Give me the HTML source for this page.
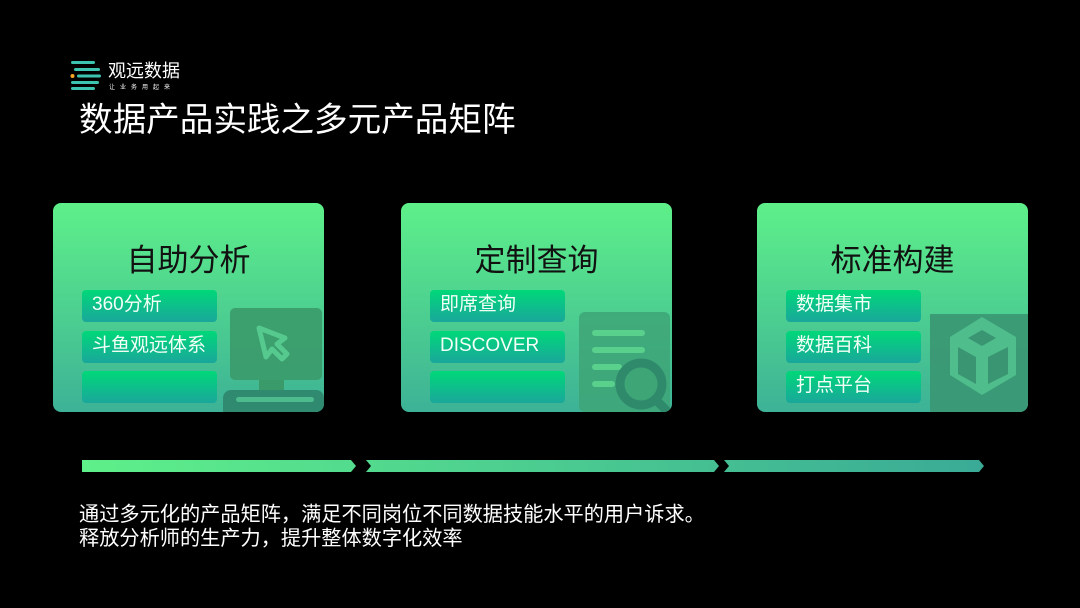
<!DOCTYPE html>
<html><head><meta charset="utf-8"><style>
*{margin:0;padding:0;box-sizing:border-box}
body{width:1080px;height:608px;background:#000;position:relative;overflow:hidden;font-family:"Liberation Sans","Noto Sans CJK SC",sans-serif;color:#fff}
.a{position:absolute}
.card{position:absolute;top:203px;width:271px;height:209px;border-radius:8px;background:linear-gradient(#5ef08a,#3db296);overflow:hidden}
.ct{position:absolute;top:32px;left:0;width:100%;text-align:center;font-size:31px;color:#111}
.sb{position:absolute;left:29px;width:135px;height:32px;border-radius:4px;background:linear-gradient(#00d879,#1aa79b);font-size:19px;line-height:30px;padding-left:10px;color:#f2fff6}
.bot{font-size:20.2px;line-height:24px;left:79px;white-space:nowrap}
</style></head><body>
<svg class="a" style="left:70px;top:60px" width="32" height="32" viewBox="0 0 32 32">
<rect x="1" y="1" width="24" height="3" rx="1.5" fill="#3cc4b0"/>
<rect x="4" y="8" width="26" height="3" rx="1.5" fill="#3cc4b0"/>
<circle cx="2.5" cy="16" r="2" fill="#f5a623"/>
<rect x="7" y="14.5" width="24" height="3" rx="1.5" fill="#3cc4b0"/>
<rect x="1" y="21" width="28" height="3" rx="1.5" fill="#3cc4b0"/>
<rect x="1" y="27" width="24" height="3" rx="1.5" fill="#3cc4b0"/>
</svg>
<div class="a" style="left:108px;top:60px;font-size:18px;line-height:22px">观远数据</div>
<div class="a" style="left:109px;top:82px;font-size:6px;letter-spacing:5px">让业务用起来</div>
<div class="a" style="left:79px;top:100px;font-size:33.6px;line-height:42px;white-space:nowrap">数据产品实践之多元产品矩阵</div>

<div class="card" style="left:53px">
<div class="ct">自助分析</div>
<div class="sb" style="top:87px">360分析</div>
<div class="sb" style="top:128px">斗鱼观远体系</div>
<div class="sb" style="top:168px"></div>
<svg class="a" style="left:170px;top:105px" width="101" height="104">
<rect x="7" y="0" width="92" height="72" rx="5" fill="#3b9a6a" opacity=".9"/>
<rect x="36" y="72" width="25" height="10" fill="#3b9a6a"/>
<rect x="0" y="82" width="101" height="30" rx="8" fill="#2f8a70"/>
<rect x="13" y="89" width="78" height="5" rx="2.5" fill="#4dbb8e"/>
<path d="M36 20 L62 30 L54 36 L64 46 L59 51 L49 41 L43 49 Z" fill="none" stroke="#56c98f" stroke-width="5" stroke-linejoin="round"/>
</svg>
</div>

<div class="card" style="left:401px">
<div class="ct">定制查询</div>
<div class="sb" style="top:87px">即席查询</div>
<div class="sb" style="top:128px">DISCOVER</div>
<div class="sb" style="top:168px"></div>
<svg class="a" style="left:178px;top:109px" width="93" height="100">
<rect x="0" y="0" width="91" height="100" rx="6" fill="#3ea577" opacity=".85"/>
<g stroke="#5ad08d" stroke-width="6" stroke-linecap="round"><line x1="16" y1="21" x2="63" y2="21"/><line x1="16" y1="38" x2="63" y2="38"/><line x1="16" y1="55" x2="40" y2="55"/><line x1="16" y1="72" x2="33" y2="72"/></g>
<circle cx="62" cy="72" r="21" fill="#3ea577" stroke="#2f8a6c" stroke-width="9"/>
<line x1="77" y1="88" x2="88" y2="99" stroke="#2f8a6c" stroke-width="9" stroke-linecap="round"/>
</svg>
</div>

<div class="card" style="left:757px">
<div class="ct">标准构建</div>
<div class="sb" style="top:87px">数据集市</div>
<div class="sb" style="top:128px">数据百科</div>
<div class="sb" style="top:168px">打点平台</div>
<svg class="a" style="left:173px;top:111px" width="98" height="98">
<rect x="0" y="0" width="98" height="98" fill="#3a9672" opacity=".9"/>
<path d="M52 3 L86 23 L86 61 L52 81 L20 61 L20 23 Z" fill="#4fbd8c"/>
<path d="M28 33 L46 43 L46 70 L28 60 Z M58 43 L78 33 L78 60 L58 70 Z M38 24 L52 16 L66 24 L52 32 Z" fill="#3a9672"/>
</svg>
</div>

<svg class="a" style="left:0;top:458px" width="1080" height="16">
<defs><linearGradient id="g" x1="0" x2="1"><stop offset="0" stop-color="#5ef08a"/><stop offset="1" stop-color="#3aaa96"/></linearGradient></defs>
<path d="M82 2 L351 2 L356 8 L351 14 L82 14 Z M366 2 L714 2 L719 8 L714 14 L366 14 L371 8 Z M724 2 L979 2 L984 8 L979 14 L724 14 L729 8 Z" fill="url(#g)"/>
</svg>

<div class="a bot" style="top:503px">通过多元化的产品矩阵，满足不同岗位不同数据技能水平的用户诉求。</div>
<div class="a bot" style="top:527px">释放分析师的生产力，提升整体数字化效率</div>
</body></html>
